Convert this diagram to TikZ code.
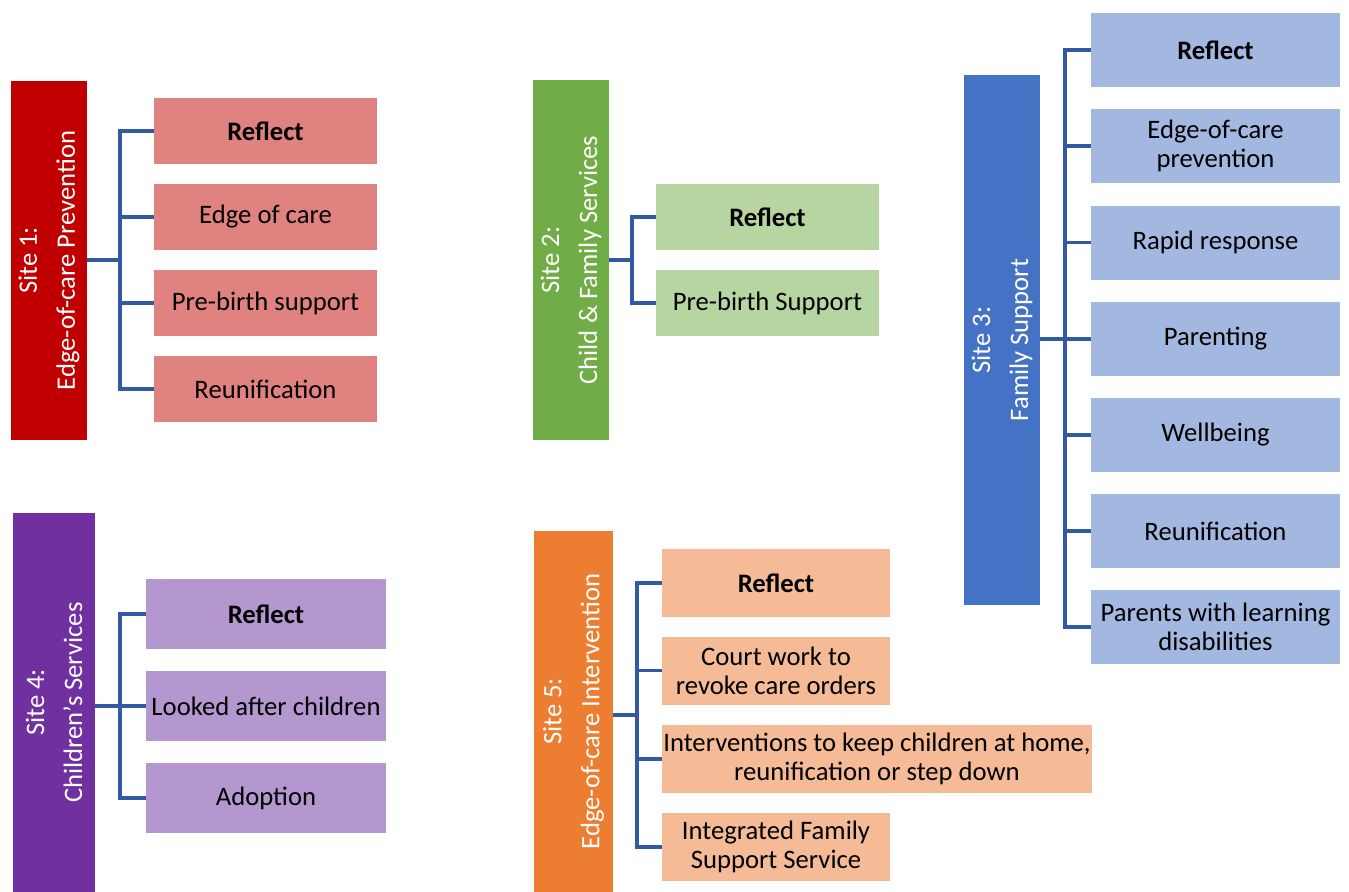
\documentclass[tikz,border=0pt]{standalone}
\usepackage{fontspec}
\setmainfont{Carlito}
\usepackage{xcolor}
\usetikzlibrary{positioning}

\newlength\px
\setlength\px{0.75pt}

\definecolor{redhead}{HTML}{C00000}
\definecolor{redbox}{HTML}{E08380}
\definecolor{greenhead}{HTML}{70AD47}
\definecolor{greenbox}{HTML}{B7D5A1}
\definecolor{bluehead}{HTML}{4472C4}
\definecolor{bluebox}{HTML}{A3B8E0}
\definecolor{purplehead}{HTML}{7030A0}
\definecolor{purplebox}{HTML}{B497CF}
\definecolor{orangehead}{HTML}{ED7D31}
\definecolor{orangebox}{HTML}{F4BB96}
\definecolor{linkblue}{HTML}{3459A3}

\tikzset{
  site/.style n args={3}{rotate=90,fill=#1,text=white,inner sep=0pt,align=center,
    minimum width=#3\px,minimum height=#2\px,font=\fontsize{20}{28.5}\selectfont},
  item/.style n args={3}{fill=#1,inner sep=0pt,align=center,
    minimum width=#2\px,minimum height=#3\px,font=\fontsize{20}{21.75}\selectfont},
  link/.style={draw=linkblue,line width=2.8pt}
}

\begin{document}
\begin{tikzpicture}[x=0.75pt,y=-0.75pt]
\useasboundingbox[fill=white] (0,0) rectangle (1349,892);

% Site 1: Edge-of-care Prevention
\node[site={redhead}{76}{359}] (s1) at (49,260.5) {Site 1:\\Edge-of-care Prevention};
\node[item={redbox}{223}{66}] (s1a) at (265.5,131) {\textbf{Reflect}};
\node[item={redbox}{223}{66}] (s1b) at (265.5,217) {Edge of care};
\node[item={redbox}{223}{66}] (s1c) at (265.5,303) {Pre-birth support};
\node[item={redbox}{223}{66}] (s1d) at (265.5,389) {Reunification};
\coordinate (b1) at (120,260);
\draw[link] (s1.south |- b1) -- (b1);
\foreach \c in {a,b,c,d}
  \draw[link] (b1) |- (s1\c.west);

% Site 2: Child & Family Services
\node[site={greenhead}{76}{360}] (s2) at (571,260) {Site 2:\\Child \& Family Services};
\node[item={greenbox}{223}{66}] (s2a) at (767.5,217) {\textbf{Reflect}};
\node[item={greenbox}{223}{66}] (s2b) at (767.5,303) {Pre-birth Support};
\coordinate (b2) at (632,260);
\draw[link] (s2.south |- b2) -- (b2);
\foreach \c in {a,b}
  \draw[link] (b2) |- (s2\c.west);

% Site 3: Family Support
\node[site={bluehead}{76}{530}] (s3) at (1002,340) {Site 3:\\Family Support};
\node[item={bluebox}{249}{74}] (s3a) at (1215.5,50) {\textbf{Reflect}};
\node[item={bluebox}{249}{74}] (s3b) at (1215.5,146) {Edge-of-care\\prevention};
\node[item={bluebox}{249}{74}] (s3c) at (1215.5,242.5) {Rapid response};
\node[item={bluebox}{249}{74}] (s3d) at (1215.5,339) {Parenting};
\node[item={bluebox}{249}{74}] (s3e) at (1215.5,435) {Wellbeing};
\node[item={bluebox}{249}{74}] (s3f) at (1215.5,531) {Reunification};
\node[item={bluebox}{249}{74}] (s3g) at (1215.5,627) {Parents with learning\\disabilities};
\coordinate (b3) at (1065,339);
\draw[link] (s3.south |- b3) -- (b3);
\foreach \c in {a,b,c,d,e,f,g}
  \draw[link] (b3) |- (s3\c.west);

% Site 4: Children's Services
\node[site={purplehead}{82}{379}] (s4) at (54,702.5) {Site 4:\\Children's Services};
\node[item={purplebox}{240}{70}] (s4a) at (266,614) {\textbf{Reflect}};
\node[item={purplebox}{240}{70}] (s4b) at (266,706) {Looked after children};
\node[item={purplebox}{240}{70}] (s4c) at (266,798) {Adoption};
\coordinate (b4) at (120,706);
\draw[link] (s4.south |- b4) -- (b4);
\foreach \c in {a,b,c}
  \draw[link] (b4) |- (s4\c.west);

% Site 5: Edge-of-care Intervention
\node[site={orangehead}{79}{361}] (s5) at (573.5,711.5) {Site 5:\\Edge-of-care Intervention};
\node[item={orangebox}{228}{68}] (s5a) at (776,583) {\textbf{Reflect}};
\node[item={orangebox}{228}{68}] (s5b) at (776,670.5) {Court work to\\revoke care orders};
\node[item={orangebox}{430}{68}] (s5c) at (877,759) {Interventions to keep children at home,\\reunification or step down};
\node[item={orangebox}{228}{68}] (s5d) at (776,847) {Integrated Family\\Support Service};
\coordinate (b5) at (637,715);
\draw[link] (s5.south |- b5) -- (b5);
\foreach \c in {a,b,c,d}
  \draw[link] (b5) |- (s5\c.west);
\end{tikzpicture}
\end{document}
